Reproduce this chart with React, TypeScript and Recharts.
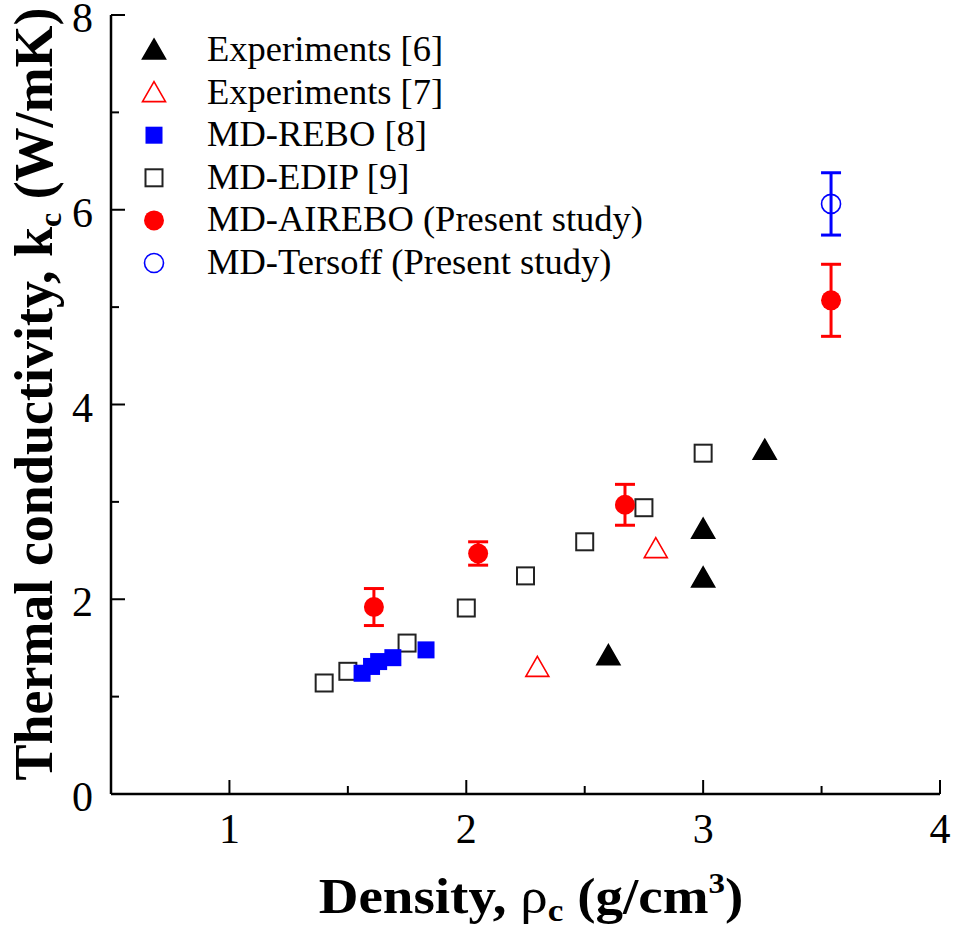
import React from 'react';
import { ScatterChart, Scatter, XAxis, YAxis, ErrorBar } from 'recharts';

// values
const exp6X = [2.6, 3.0, 3.0, 3.26];
const exp6Y = [1.42, 2.22, 2.72, 3.53];
const exp7X = [2.3, 2.8];
const exp7Y = [1.3, 2.52];
const reboX = [1.56, 1.6, 1.63, 1.69, 1.83];
const reboY = [1.24, 1.31, 1.36, 1.4, 1.48];
const edipX = [1.4, 1.5, 1.75, 2.0, 2.25, 2.5, 2.75, 3.0];
const edipY = [1.14, 1.26, 1.55, 1.91, 2.24, 2.59, 2.94, 3.5];
const airX = [1.61, 2.05, 2.67, 3.54];
const airY = [1.92, 2.47, 2.97, 5.07];
const airErr = [0.19, 0.12, 0.21, 0.37];
const terX = [3.54];
const terY = [6.06];
const terErr = [0.32];

const xTicks = [0.5, 1, 1.5, 2, 2.5, 3, 3.5, 4];
const yTicks = [0, 1, 2, 3, 4, 5, 6, 7, 8];
const xLabels = [1, 2, 3, 4];
const yLabels = [0, 2, 4, 6, 8];

const legendNames = [
  'Experiments [6]',
  'Experiments [7]',
  'MD-REBO [8]',
  'MD-EDIP [9]',
  'MD-AIREBO (Present study)',
  'MD-Tersoff (Present study)',
];

const pts = (xs: number[], ys: number[], err?: number[]) =>
  xs.map((x, i) => ({ x, y: ys[i], err: err ? err[i] : 0 }));

const FONT = '"Liberation Serif", "Times New Roman", serif';
const RED = '#ff0000';
const BLUE = '#0000ff';

const Tri = ({ cx, cy, fill, stroke }: any) => (
  <path
    d={`M${cx},${cy - 11} L${cx + 11.5},${cy + 9} L${cx - 11.5},${cy + 9} Z`}
    fill={fill}
    stroke={stroke}
    strokeWidth={1.6}
  />
);
const Sq = ({ cx, cy, fill, stroke }: any) => (
  <rect x={cx - 8.5} y={cy - 8.5} width={17} height={17} fill={fill} stroke={stroke} strokeWidth={fill === 'none' ? 2 : 0} />
);
const Circ = ({ cx, cy, fill, stroke }: any) => (
  <circle cx={cx} cy={cy} r={fill === 'none' ? 9.5 : 10} fill={fill} stroke={stroke} strokeWidth={fill === 'none' ? 1.6 : 0} />
);

const markers = [
  (p: any) => <Tri {...p} fill="#000" stroke="#000" />,
  (p: any) => <Tri {...p} fill="none" stroke={RED} />,
  (p: any) => <Sq {...p} fill={BLUE} stroke={BLUE} />,
  (p: any) => <Sq {...p} fill="none" stroke="#222" />,
  (p: any) => <Circ {...p} fill={RED} stroke={RED} />,
  (p: any) => <Circ {...p} fill="none" stroke={BLUE} />,
];

const BottomTick = ({ x, y, payload }: any) => {
  const major = xLabels.includes(payload.value);
  return (
    <g>
      <line x1={x} x2={x} y1={y} y2={y - (major ? 14 : 8)} stroke="#000" strokeWidth={2} />
      {major && (
        <text x={x} y={y + 35} textAnchor="middle" dominantBaseline="central" fontSize={42} fontFamily={FONT} fill="#000">
          {payload.value}
        </text>
      )}
    </g>
  );
};
const TopTick = ({ x, y, payload }: any) => {
  const major = xLabels.includes(payload.value);
  return <line x1={x} x2={x} y1={y} y2={y + (major ? 14 : 8)} stroke="#000" strokeWidth={2} />;
};
const LeftTick = ({ x, y, payload }: any) => {
  const major = yLabels.includes(payload.value);
  return (
    <g>
      <line x1={x} x2={x + (major ? 14 : 8)} y1={y} y2={y} stroke="#000" strokeWidth={2} />
      {major && (
        <text x={x - 18} y={y + 3} textAnchor="end" dominantBaseline="central" fontSize={42} fontFamily={FONT} fill="#000">
          {payload.value}
        </text>
      )}
    </g>
  );
};
const RightTick = ({ x, y, payload }: any) => {
  const major = yLabels.includes(payload.value);
  return <line x1={x} x2={x - (major ? 14 : 8)} y1={y} y2={y} stroke="#000" strokeWidth={2} />;
};

const axisLine = { stroke: '#000', strokeWidth: 2.5 };

export default function App() {
  return (
    <div style={{ position: 'absolute', left: 0, top: 0, width: 955, height: 939, background: '#fff' }}>
      <ScatterChart width={955} height={939} margin={{ top: 15, right: 15, bottom: 0, left: 0 }}>
        <XAxis
          xAxisId={0}
          type="number"
          dataKey="x"
          domain={[0.5, 4]}
          ticks={xTicks}
          interval={0}
          height={145}
          tickSize={0}
          tickMargin={0}
          tickLine={false}
          axisLine={axisLine}
          tick={<BottomTick />}
          allowDataOverflow
        />
        <XAxis
          xAxisId="top"
          orientation="top"
          type="number"
          dataKey="x"
          domain={[0.5, 4]}
          ticks={xTicks}
          interval={0}
          height={0}
          tickSize={0}
          tickMargin={0}
          tickLine={false}
          axisLine={axisLine}
          tick={<TopTick />}
          allowDataOverflow
        />
        <YAxis
          yAxisId={0}
          type="number"
          dataKey="y"
          domain={[0, 8]}
          ticks={yTicks}
          interval={0}
          width={111}
          tickSize={0}
          tickMargin={0}
          tickLine={false}
          axisLine={axisLine}
          tick={<LeftTick />}
          allowDataOverflow
        />
        <YAxis
          yAxisId="right"
          orientation="right"
          type="number"
          dataKey="y"
          domain={[0, 8]}
          ticks={yTicks}
          interval={0}
          width={0}
          tickSize={0}
          tickMargin={0}
          tickLine={false}
          axisLine={axisLine}
          tick={<RightTick />}
          allowDataOverflow
        />
        <Scatter name={legendNames[3]} data={pts(edipX, edipY)} shape={markers[3]} isAnimationActive={false} />
        <Scatter name={legendNames[2]} data={pts(reboX, reboY)} shape={markers[2]} isAnimationActive={false} />
        <Scatter name={legendNames[0]} data={pts(exp6X, exp6Y)} shape={markers[0]} isAnimationActive={false} />
        <Scatter name={legendNames[1]} data={pts(exp7X, exp7Y)} shape={markers[1]} isAnimationActive={false} />
        <Scatter name={legendNames[4]} data={pts(airX, airY, airErr)} shape={markers[4]} isAnimationActive={false}>
          <ErrorBar dataKey="err" direction="y" width={10} strokeWidth={3} stroke={RED} isAnimationActive={false} />
        </Scatter>
        <Scatter name={legendNames[5]} data={pts(terX, terY, terErr)} shape={markers[5]} isAnimationActive={false}>
          <ErrorBar dataKey="err" direction="y" width={10} strokeWidth={3} stroke={BLUE} isAnimationActive={false} />
        </Scatter>
        <text
          transform="translate(52,394) rotate(-90)"
          textAnchor="middle"
          fontSize={54}
          fontWeight="bold"
          fontFamily={FONT}
          fill="#000"
        >
          Thermal conductivity, k<tspan fontSize={32} dy={9}>c</tspan>
          <tspan dy={-9}> (W/mK)</tspan>
        </text>
        <text
          transform="translate(531,913) scale(1.1,1)"
          textAnchor="middle"
          fontSize={50}
          fontWeight="bold"
          fontFamily={FONT}
          fill="#000"
        >
          Density, <tspan fontWeight="normal">ρ</tspan>
          <tspan fontSize={32} dy={8}>c</tspan>
          <tspan dy={-8}> (g/cm</tspan>
          <tspan fontSize={30} dy={-20}>3</tspan>
          <tspan dy={20}>)</tspan>
        </text>
      </ScatterChart>
      <svg width={80} height={280} style={{ position: 'absolute', left: 114, top: 27 }}>
        {legendNames.map((n, i) => (
          <g key={n}>{markers[i]({ cx: 40, cy: 23 + i * 42.6 })}</g>
        ))}
      </svg>
      <div style={{ position: 'absolute', left: 207, top: 28, fontFamily: FONT, fontSize: 36.5, color: '#000' }}>
        {legendNames.map((n) => (
          <div key={n} style={{ height: 42.6, lineHeight: '42.6px', whiteSpace: 'nowrap' }}>
            {n}
          </div>
        ))}
      </div>
    </div>
  );
}
